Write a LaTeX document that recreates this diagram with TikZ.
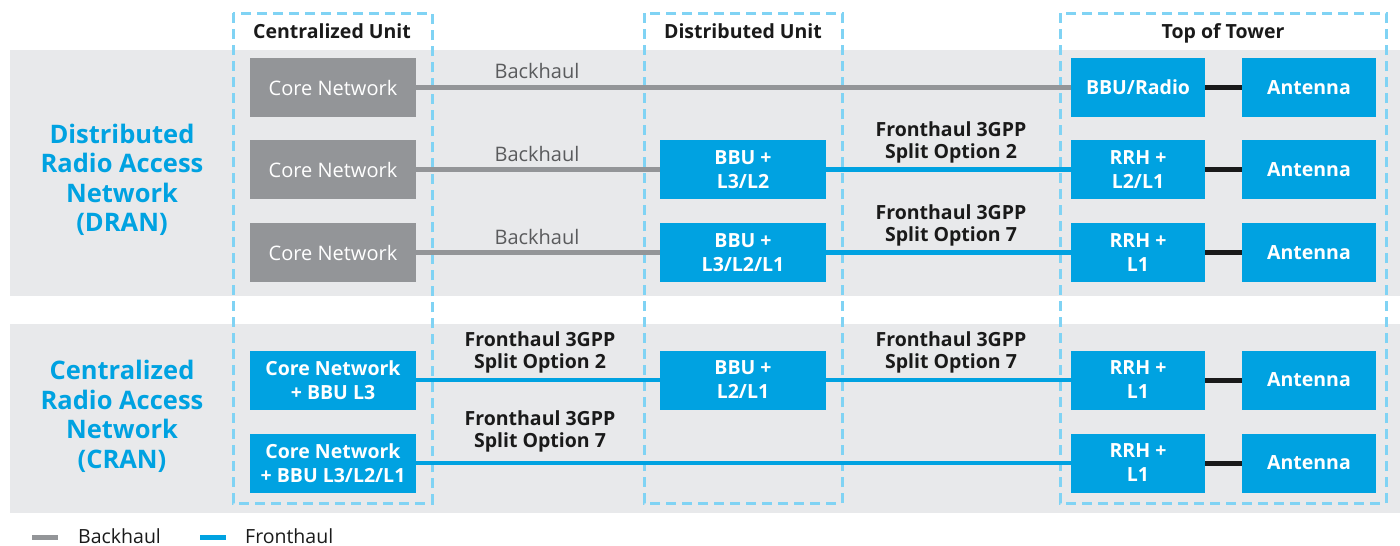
\documentclass[tikz,border=0pt]{standalone}
\usepackage{fontspec}
\setmainfont{Open Sans}
\definecolor{ibl}{HTML}{00A2E1}
\definecolor{boxgray}{HTML}{939598}
\definecolor{band}{HTML}{E8E9EB}
\definecolor{dashc}{HTML}{80D3F4}
\definecolor{ink}{HTML}{1A1A1A}
\definecolor{lbl}{HTML}{5A5B5D}
\tikzset{
  box/.style={minimum width=166pt, minimum height=59pt, inner sep=0pt, align=center, text=white},
  bluebox/.style={box, fill=ibl, font=\bfseries\fontsize{19.5}{24}\selectfont},
  graybox/.style={box, fill=boxgray, font=\fontsize{20}{23}\selectfont},
  tbox/.style={bluebox, minimum width=134pt},
  zone/.style={draw=dashc, line width=3pt, dash pattern=on 10pt off 6pt},
  bh/.style={draw=boxgray, line width=4.5pt},
  fh/.style={draw=ibl, line width=4.5pt},
  ant/.style={draw=ink, line width=5pt},
  hdr/.style={font=\bfseries\fontsize{19.5}{23}\selectfont, text=ink, anchor=base},
  fhl/.style={font=\bfseries\fontsize{19.5}{22}\selectfont, text=ink, align=center},
  bhl/.style={font=\fontsize{20}{23}\selectfont, text=lbl},
  side/.style={font=\bfseries\fontsize{25.5}{29.5}\selectfont, text=ibl, align=center},
  leg/.style={font=\fontsize{19.5}{23}\selectfont, text=ink, anchor=west, inner sep=0pt}
}
\begin{document}
\begin{tikzpicture}[x=1pt,y=-1pt]
\useasboundingbox (0,0) rectangle (1400,546);
% bands
\fill[band] (10,50) rectangle (1400,296);
\fill[band] (10,324) rectangle (1400,513);
% zones
\draw[zone] (233,13) rectangle (432,503);
\draw[zone] (644,13) rectangle (842,503);
\draw[zone] (1060,13) rectangle (1386,503);
% headers
\node[hdr] (hcu) at (332,38) {Centralized Unit};
\node[hdr] (hdu) at (743,38) {Distributed Unit};
\node[hdr] (htt) at (1223,38) {Top of Tower};
% side labels
\node[side] (dran) at (122,180) {Distributed\\Radio Access\\Network\\(DRAN)};
\node[side] (cran) at (122,416.5) {Centralized\\Radio Access\\Network\\(CRAN)};
% row 1
\node[graybox] (c1) at (333,87.5) {Core Network};
\node[tbox] (r1) at (1138,87.5) {BBU/Radio};
\node[tbox] (a1) at (1309,87.5) {Antenna};
% row 2
\node[graybox] (c2) at (333,169.5) {Core Network};
\node[bluebox] (d2) at (743,169.5) {BBU +\\L3/L2};
\node[tbox] (r2) at (1138,169.5) {RRH +\\L2/L1};
\node[tbox] (a2) at (1309,169.5) {Antenna};
% row 3
\node[graybox] (c3) at (333,252.5) {Core Network};
\node[bluebox] (d3) at (743,252.5) {BBU +\\L3/L2/L1};
\node[tbox] (r3) at (1138,252.5) {RRH +\\L1};
\node[tbox] (a3) at (1309,252.5) {Antenna};
% row 4
\node[bluebox] (c4) at (333,380) {Core Network\\+ BBU L3};
\node[bluebox] (d4) at (743,380) {BBU +\\L2/L1};
\node[tbox] (r4) at (1138,380) {RRH +\\L1};
\node[tbox] (a4) at (1309,380) {Antenna};
% row 5
\node[bluebox] (c5) at (333,463) {Core Network\\+ BBU L3/L2/L1};
\node[tbox] (r5) at (1138,463) {RRH +\\L1};
\node[tbox] (a5) at (1309,463) {Antenna};
% connectors
\draw[bh] (c1) -- (r1);
\draw[ant] (r1) -- (a1);
\draw[bh] (c2) -- (d2);
\draw[fh] (d2) -- (r2);
\draw[ant] (r2) -- (a2);
\draw[bh] (c3) -- (d3);
\draw[fh] (d3) -- (r3);
\draw[ant] (r3) -- (a3);
\draw[fh] (c4) -- (d4);
\draw[fh] (d4) -- (r4);
\draw[ant] (r4) -- (a4);
\draw[fh] (c5) -- (r5);
\draw[ant] (r5) -- (a5);
% connector labels
\node[bhl] (b1) at (537,71) {Backhaul};
\node[bhl] (b2) at (537,154) {Backhaul};
\node[bhl] (b3) at (537,237) {Backhaul};
\node[fhl] (f2) at (951,142) {Fronthaul 3GPP\\Split Option 2};
\node[fhl] (f3) at (951,225) {Fronthaul 3GPP\\Split Option 7};
\node[fhl] (f4a) at (540,352.5) {Fronthaul 3GPP\\Split Option 2};
\node[fhl] (f4b) at (951,352.5) {Fronthaul 3GPP\\Split Option 7};
\node[fhl] (f5) at (540,431.5) {Fronthaul 3GPP\\Split Option 7};
% legend
\coordinate (lg1) at (32,537);
\coordinate (lg2) at (58,537);
\coordinate (lb1) at (200,537);
\coordinate (lb2) at (226,537);
\draw[draw=boxgray, line width=5pt] (lg1) -- (lg2);
\draw[draw=ibl, line width=5pt] (lb1) -- (lb2);
\node[leg] (lgt) at (78,536) {Backhaul};
\node[leg] (lbt) at (245,536) {Fronthaul};
\end{tikzpicture}
\end{document}
